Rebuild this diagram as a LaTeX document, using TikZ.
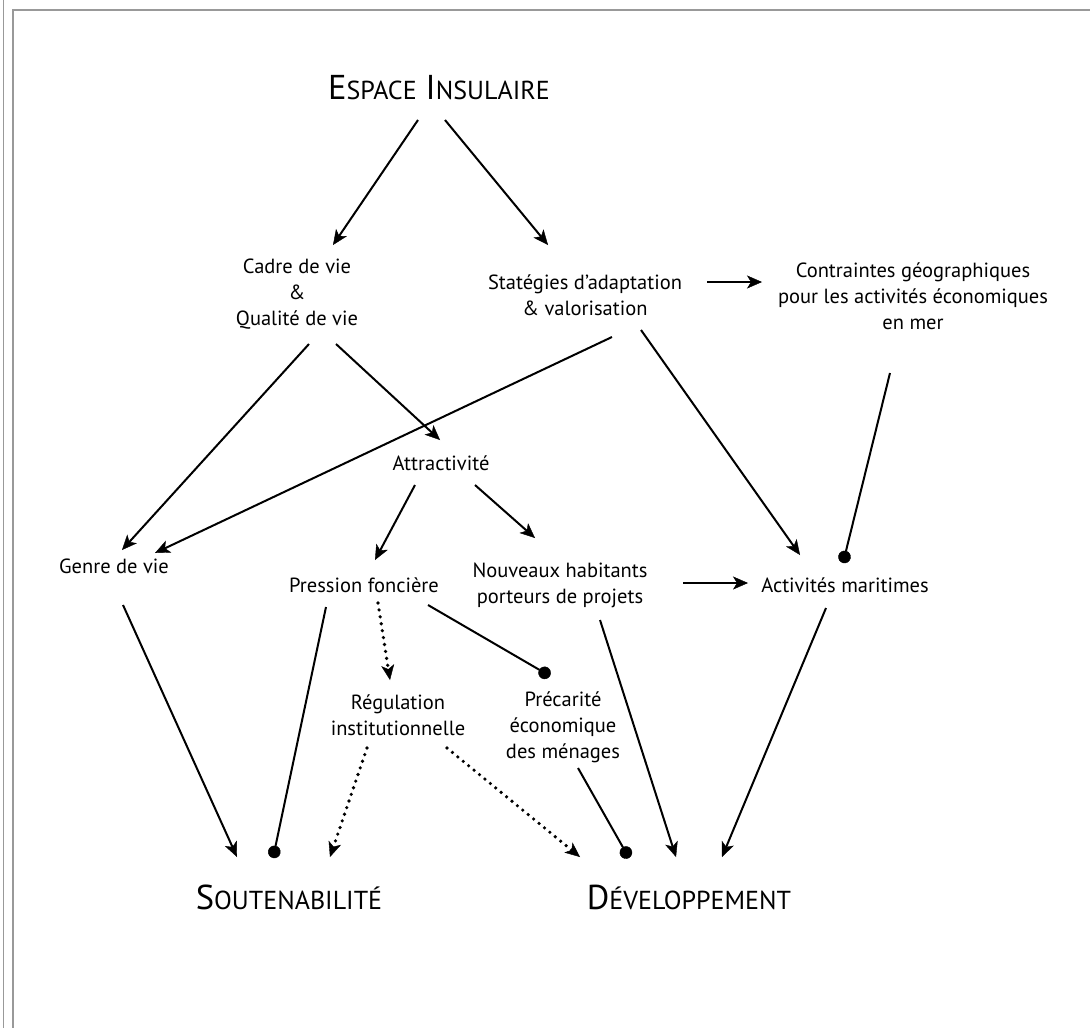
\documentclass[tikz,border=0pt]{standalone}
\usepackage{fontspec}
\setmainfont{PT Sans}
\usetikzlibrary{arrows.meta}
\newcommand\scap[2]{{\fontsize{34.5}{36}\selectfont #1}{\fontsize{26}{28}\selectfont #2}}
\begin{document}
\begin{tikzpicture}[x=1pt,y=-1pt,
  lbl/.style={align=center,font=\fontsize{20.5}{26}\selectfont,inner sep=0pt},
  ttl/.style={inner sep=0pt},
  conn/.style={line width=2pt},
  arr/.style={conn,-{Stealth[length=15pt,width=13pt,inset=4pt,line width=0.4pt]}},
  dotend/.style={conn,-{Circle[length=12.5pt,line width=0.4pt]}},
  dotarr/.style={line width=3.6pt,dash pattern=on 0pt off 7pt,line cap=round,-{Stealth[length=15pt,width=13pt,inset=4pt,line width=0.4pt]}},
  frame/.style={black!40,line width=1.5pt}
]
\useasboundingbox (0,0) rectangle (1090,1028);
\draw[frame] (3.5,0) -- (3.5,1028);
\draw[frame] (13,1028) -- (13,10) -- (1090,10);

\node[ttl] (esp) at (439,88) {\scap{E}{SPACE}\hspace{9pt}\scap{I}{NSULAIRE}};
\node[lbl] (cadre) at (297,294) {Cadre de vie\\\&\\Qualité de vie};
\node[lbl] (strat) at (585,295) {Statégies d’adaptation\\\& valorisation};
\node[lbl] (contr) at (913,296) {Contraintes géographiques\\pour les activités économiques\\en mer};
\node[lbl] (attr) at (441,463) {Attractivité};
\node[lbl] (genre) at (114,566) {Genre de vie};
\node[lbl] (press) at (364,585) {Pression foncière};
\node[lbl] (nouv) at (560,585) {Nouveaux habitants\\porteurs de projets};
\node[lbl] (activ) at (845,585) {Activités maritimes};
\node[lbl] (regul) at (398,715) {Régulation\\institutionnelle};
\node[lbl] (prec) at (563,727) {Précarité\\économique\\des ménages};
\node[ttl] (sout) at (289,897) {\scap{S}{OUTENABILITÉ}};
\node[ttl] (dev) at (689,897) {\scap{D}{ÉVELOPPEMENT}};

\draw[arr] ([shift={(-21,32)}]esp.center) -- ([shift={(36,-49)}]cadre.center);
\draw[arr] ([shift={(6,32)}]esp.center) -- ([shift={(-37,-50)}]strat.center);
\draw[arr] ([shift={(122,-13)}]strat.center) -- ([shift={(-151,-14)}]contr.center);
\draw[arr] ([shift={(12,50)}]cadre.center) -- ([shift={(8,-16)}]genre.center);
\draw[arr] ([shift={(39,50)}]cadre.center) -- ([shift={(-1,-23)}]attr.center);
\draw[arr] ([shift={(27,42)}]strat.center) -- ([shift={(41,-13)}]genre.center);
\draw[arr] ([shift={(56,35)}]strat.center) -- ([shift={(-45,-30)}]activ.center);
\draw[dotend] ([shift={(-23,77)}]contr.center) -- ([shift={(-2,-22)}]activ.center);
\draw[arr] ([shift={(-26,22)}]attr.center) -- ([shift={(11,-25)}]press.center);
\draw[arr] ([shift={(34,22)}]attr.center) -- ([shift={(-25,-47)}]nouv.center);
\draw[arr] ([shift={(123,-2)}]nouv.center) -- ([shift={(-97,-2)}]activ.center);
\draw[arr] ([shift={(9,39)}]genre.center) -- ([shift={(-52,-40)}]sout.center);
\draw[dotend] ([shift={(-38,22)}]press.center) -- ([shift={(-16,-39)}]sout.center);
\draw[dotarr] ([shift={(14,18)}]press.center) -- ([shift={(-8,-35)}]regul.center);
\draw[dotend] ([shift={(64,20)}]press.center) -- ([shift={(-13,-51)}]prec.center);
\draw[dotarr] ([shift={(-31,33)}]regul.center) -- ([shift={(41,-40)}]sout.center);
\draw[dotarr] ([shift={(49,33)}]regul.center) -- ([shift={(-109,-40)}]dev.center);
\draw[dotend] ([shift={(15,41)}]prec.center) -- ([shift={(-60,-39)}]dev.center);
\draw[arr] ([shift={(40,35)}]nouv.center) -- ([shift={(-13,-40)}]dev.center);
\draw[arr] ([shift={(-19,23)}]activ.center) -- ([shift={(33,-40)}]dev.center);
\end{tikzpicture}
\end{document}
